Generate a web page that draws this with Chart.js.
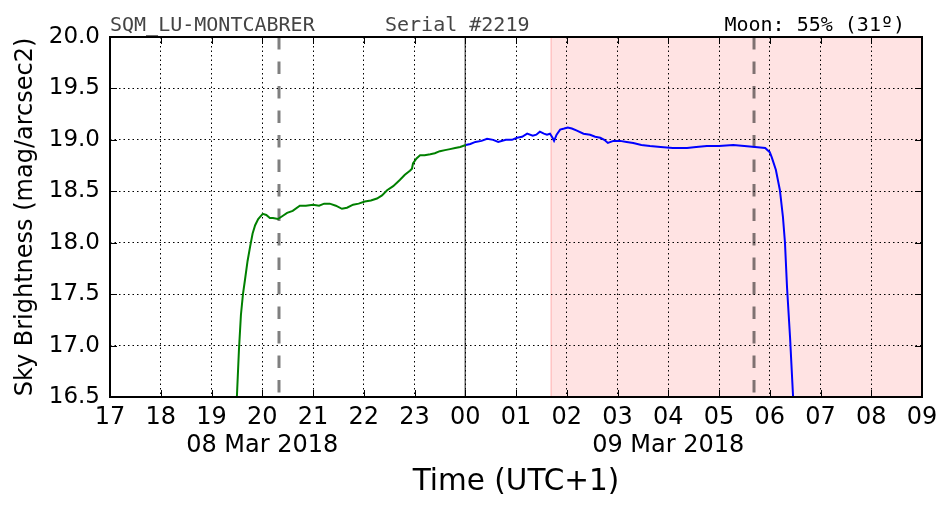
<!DOCTYPE html>
<html>
<head>
<meta charset="utf-8">
<script src="https://cdn.jsdelivr.net/npm/chart.js@4.4.1/dist/chart.umd.min.js"></script>
<style>
  body { margin: 0; background: #fff; }
  #wrap { width: 952px; height: 512px; }
</style>
</head>
<body>
<div id="wrap"><canvas id="c" width="952" height="512"></canvas></div>
<script>
// hours since 00:00 on 08 Mar 2018 (local UTC+1)
const eveningHours = [19.50, 19.54, 19.58, 19.62, 19.66, 19.71, 19.76, 19.81, 19.86, 19.92,
  20.01, 20.08, 20.15, 20.21, 20.31, 20.40, 20.49, 20.60, 20.74, 20.86,
  21.00, 21.12, 21.22, 21.33, 21.45, 21.57, 21.67, 21.79, 21.90, 22.02,
  22.14, 22.26, 22.36, 22.46, 22.58, 22.71, 22.81, 22.91, 22.95, 22.97,
  23.04, 23.11, 23.20, 23.31, 23.40, 23.50, 23.60, 23.70, 23.80, 23.90, 24.01];
const eveningMag = [16.50, 16.95, 17.30, 17.50, 17.64, 17.82, 17.96, 18.09, 18.17, 18.23,
  18.28, 18.27, 18.24, 18.24, 18.23, 18.26, 18.29, 18.31, 18.36, 18.36,
  18.37, 18.36, 18.38, 18.38, 18.36, 18.33, 18.34, 18.37, 18.38, 18.40,
  18.41, 18.43, 18.46, 18.51, 18.55, 18.61, 18.66, 18.70, 18.72, 18.77,
  18.82, 18.85, 18.85, 18.86, 18.87, 18.89, 18.90, 18.91, 18.92, 18.93, 18.95];

const morningHours = [24.01, 24.10, 24.20, 24.32, 24.43, 24.55, 24.65, 24.80, 24.92, 25.02,
  25.12, 25.22, 25.33, 25.40, 25.47, 25.55, 25.61, 25.67, 25.72, 25.75,
  25.80, 25.87, 25.95, 26.02, 26.10, 26.20, 26.33, 26.46, 26.56, 26.66,
  26.74, 26.81, 26.92, 27.05, 27.18, 27.31, 27.47, 27.64, 27.85, 28.09,
  28.37, 28.55, 28.76, 29.00, 29.28, 29.50, 29.71, 29.91, 30.00, 30.04,
  30.12, 30.20, 30.26, 30.30, 30.34, 30.40, 30.46];
const morningMag = [18.95, 18.96, 18.98, 18.99, 19.01, 19.00, 18.98, 19.00, 19.00, 19.02,
  19.03, 19.06, 19.04, 19.05, 19.08, 19.06, 19.05, 19.06, 19.02, 18.99,
  19.05, 19.10, 19.11, 19.12, 19.11, 19.09, 19.06, 19.05, 19.03, 19.02,
  19.00, 18.97, 18.99, 18.99, 18.98, 18.97, 18.95, 18.94, 18.93, 18.92,
  18.92, 18.93, 18.94, 18.94, 18.95, 18.94, 18.93, 18.92, 18.88, 18.83,
  18.71, 18.51, 18.25, 18.00, 17.57, 17.08, 16.50];

const twilightHours = [20.33, 29.69];   // grey dashed lines
const midnightHour = 24;
const moonUpFrom = 25.69;               // pink band start
const dateLabels = { 20: "08 Mar 2018", 28: "09 Mar 2018" };

const toPoints = (xs, ys) => xs.map((x, i) => ({ x: x, y: ys[i] }));

Chart.defaults.font.family = "'DejaVu Sans', sans-serif";
Chart.defaults.color = "#000";

const sqmPlugin = {
  id: "sqm",
  beforeDraw(chart) {
    const { ctx, chartArea: a, scales: { x } } = chart;
    const px = x.getPixelForValue(moonUpFrom);
    ctx.save();
    ctx.fillStyle = "rgba(255,0,0,0.11)";
    ctx.fillRect(px, a.top, a.right - px, a.bottom - a.top);
    ctx.strokeStyle = "rgba(255,0,0,0.18)";
    ctx.lineWidth = 1.5;
    ctx.beginPath();
    ctx.moveTo(px, a.top);
    ctx.lineTo(px, a.bottom);
    ctx.stroke();
    ctx.restore();
  },
  beforeDatasetsDraw(chart) {
    const { ctx, chartArea: a, scales: { x } } = chart;
    ctx.save();
    ctx.strokeStyle = "rgba(0,0,0,0.5)";
    ctx.lineWidth = 3;
    ctx.setLineDash([12.5, 12]);
    twilightHours.forEach(h => {
      const px = x.getPixelForValue(h);
      ctx.beginPath();
      ctx.moveTo(px, a.top);
      ctx.lineTo(px, a.bottom);
      ctx.stroke();
    });
    ctx.setLineDash([]);
    ctx.strokeStyle = "rgba(0,0,0,0.6)";
    ctx.lineWidth = 1.5;
    const pm = x.getPixelForValue(midnightHour);
    ctx.beginPath();
    ctx.moveTo(pm, a.top);
    ctx.lineTo(pm, a.bottom);
    ctx.stroke();
    ctx.restore();
  },
  afterDatasetsDraw(chart) {
    const { ctx, chartArea: a, scales: { x, y } } = chart;
    ctx.save();
    ctx.strokeStyle = "#000";
    ctx.lineWidth = 1;
    const tl = 7;
    ctx.beginPath();
    x.ticks.forEach(t => {
      const px = Math.round(x.getPixelForValue(t.value)) + 0.5;
      ctx.moveTo(px, a.bottom); ctx.lineTo(px, a.bottom - tl);
      ctx.moveTo(px, a.top); ctx.lineTo(px, a.top + tl);
    });
    y.ticks.forEach(t => {
      const py = Math.round(y.getPixelForValue(t.value)) + 0.5;
      ctx.moveTo(a.left, py); ctx.lineTo(a.left + tl, py);
      ctx.moveTo(a.right, py); ctx.lineTo(a.right - tl, py);
    });
    ctx.stroke();
    ctx.lineWidth = 2;
    ctx.strokeRect(a.left, a.top, a.right - a.left, a.bottom - a.top);
    ctx.restore();
  },
  afterDraw(chart) {
    const { ctx, chartArea: a } = chart;
    ctx.save();
    ctx.font = "20px 'DejaVu Sans Mono', monospace";
    ctx.textBaseline = "alphabetic";
    ctx.fillStyle = "#444";
    ctx.textAlign = "left";
    ctx.fillText("SQM_LU-MONTCABRER", a.left, a.top - 6);
    ctx.fillText("Serial #2219", 385, a.top - 6);
    ctx.fillStyle = "#000";
    ctx.textAlign = "right";
    ctx.fillText("Moon: 55% (31º)", 905, a.top - 6);
    ctx.restore();
  }
};

new Chart(document.getElementById("c"), {
  type: "line",
  data: {
    datasets: [
      {
        data: toPoints(eveningHours, eveningMag),
        borderColor: "#008000",
        borderWidth: 2,
        pointRadius: 0,
        tension: 0
      },
      {
        data: toPoints(morningHours, morningMag),
        borderColor: "#0000ff",
        borderWidth: 2,
        pointRadius: 0,
        tension: 0
      }
    ]
  },
  options: {
    responsive: false,
    animation: false,
    devicePixelRatio: 1,
    layout: { padding: { top: 37, right: 30, left: 0, bottom: 0 } },
    plugins: { legend: { display: false }, tooltip: { enabled: false } },
    scales: {
      x: {
        type: "linear",
        min: 17,
        max: 33,
        afterFit(s) { s.height = 115; },
        ticks: {
          stepSize: 1,
          autoSkip: false,
          maxRotation: 0,
          padding: 7,
          font: { size: 24, lineHeight: 1.15 },
          callback(v) {
            const hh = String(((v % 24) + 24) % 24).padStart(2, "0");
            return dateLabels[v] ? [hh, dateLabels[v]] : hh;
          }
        },
        grid: { color: "#000", lineWidth: 1, drawTicks: false },
        border: { display: false, dash: [1.5, 3] },
        title: {
          display: true,
          text: "Time (UTC+1)",
          font: { size: 29.5, lineHeight: 1.2 },
          padding: { top: 0, bottom: 12 }
        }
      },
      y: {
        min: 16.5,
        max: 20,
        afterFit(s) { s.width = 110; },
        ticks: {
          stepSize: 0.5,
          padding: 10,
          font: { size: 23 },
          callback: v => v.toFixed(1)
        },
        grid: { color: "#000", lineWidth: 1, drawTicks: false },
        border: { display: false, dash: [1.5, 3] },
        title: {
          display: true,
          text: "Sky Brightness (mag/arcsec2)",
          font: { size: 24, lineHeight: 1.2 },
          padding: { top: 11, bottom: 0 }
        }
      }
    }
  },
  plugins: [sqmPlugin]
});
</script>
</body>
</html>
